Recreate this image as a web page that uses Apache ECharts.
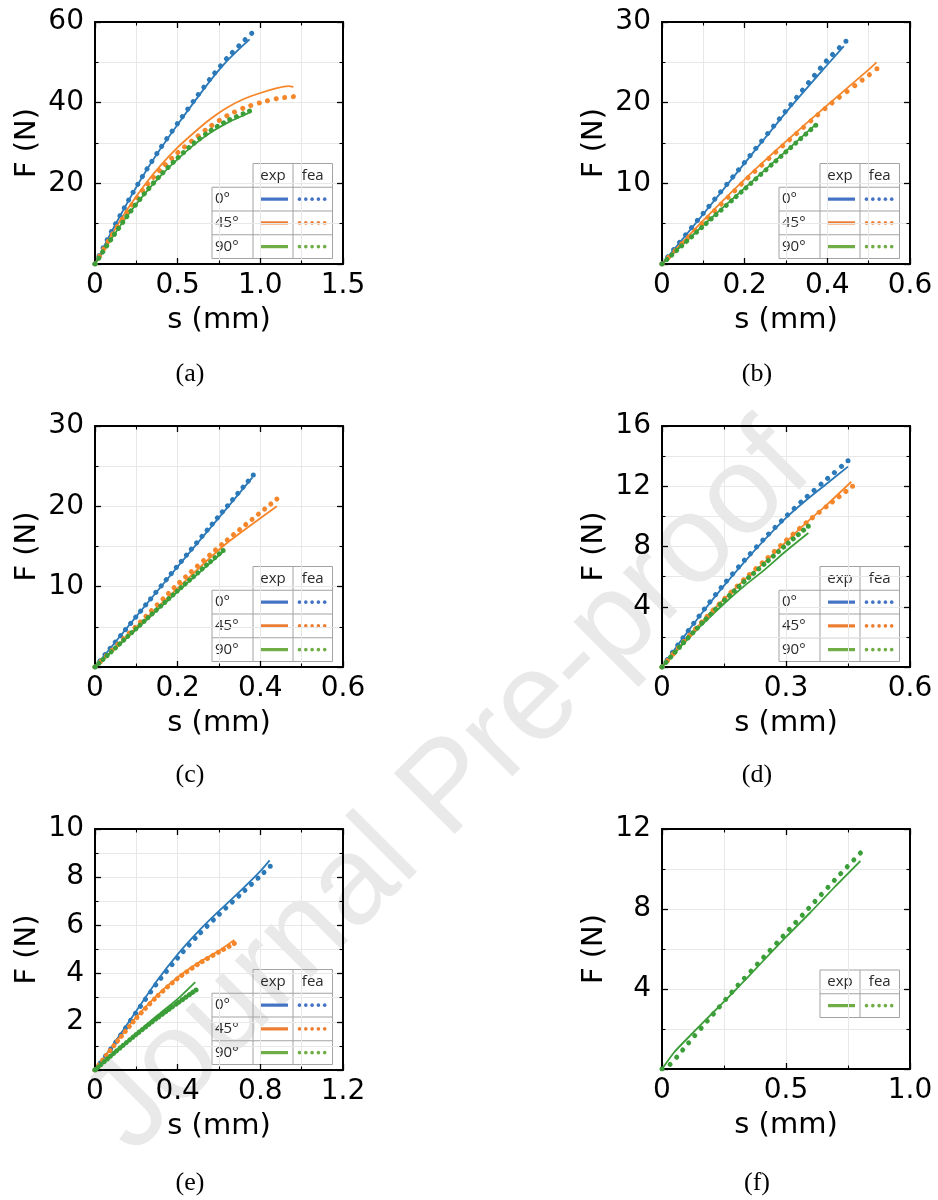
<!DOCTYPE html>
<html>
<head>
<meta charset="utf-8">
<script src="https://cdn.jsdelivr.net/npm/echarts@6/dist/echarts.min.js"></script>
<style>
  html, body { margin: 0; padding: 0; background: #fff; }
  #chart { width: 938px; height: 1200px; }
</style>
</head>
<body>
<div id="chart"></div>
<script>
// Force F (N) against displacement s (mm); "exp" = measured, "fea" = simulation.
const angleLabels = ['0°', '45°', '90°'];
const panelTags = ['(a)', '(b)', '(c)', '(d)', '(e)', '(f)'];

// (a)
const aXTicks = [0, 0.5, 1.0, 1.5];
const aXLabels = ['0', '0.5', '1.0', '1.5'];
const aYTicks = [0, 20, 40, 60];
const aYLabels = ['', '20', '40', '60'];
const aExp0 = [[0,0],[0.05,4.0],[0.1,8.0],[0.2,15.5],[0.3,22.5],[0.4,28.8],[0.5,34.6],[0.6,40.2],[0.7,45.6],[0.8,50.4],[0.9,54.4],[0.935,55.7]];
const aFea0 = [[0,0],[0.05,4.1],[0.1,8.1],[0.2,15.6],[0.3,22.6],[0.4,29.0],[0.5,34.9],[0.6,40.6],[0.7,46.1],[0.8,51.1],[0.9,55.3],[0.948,57.2]];
const aExp45 = [[0,0],[0.1,7.2],[0.2,13.8],[0.3,19.6],[0.4,24.6],[0.5,28.9],[0.6,32.6],[0.7,36.0],[0.8,38.8],[0.9,40.9],[1.0,42.4],[1.1,43.6],[1.17,44.1],[1.2,43.9]];
const aFea45 = [[0,0],[0.1,7.0],[0.2,13.3],[0.3,18.9],[0.4,23.6],[0.5,27.6],[0.6,31.0],[0.7,34.2],[0.8,36.8],[0.9,38.7],[1.0,40.0],[1.1,41.0],[1.2,41.5]];
const aExp90 = [[0,0],[0.1,6.3],[0.2,12.2],[0.3,17.4],[0.4,22.0],[0.5,26.0],[0.6,29.6],[0.7,32.6],[0.8,35.0],[0.9,36.9],[0.928,37.4]];
const aFea90 = [[0,0],[0.1,6.3],[0.2,12.2],[0.3,17.5],[0.4,22.2],[0.5,26.3],[0.6,30.0],[0.7,33.1],[0.8,35.5],[0.9,37.3],[0.935,37.9]];

// (b)
const bXTicks = [0, 0.2, 0.4, 0.6];
const bXLabels = ['0', '0.2', '0.4', '0.6'];
const bYTicks = [0, 10, 20, 30];
const bYLabels = ['', '10', '20', '30'];
const bExp0 = [[0,0],[0.1,6.2],[0.2,12.5],[0.3,18.8],[0.4,24.7],[0.44,27.0]];
const bFea0 = [[0,0],[0.1,6.3],[0.2,12.6],[0.3,19.0],[0.4,25.3],[0.445,27.6]];
const bExp45 = [[0,0],[0.1,5.4],[0.2,10.5],[0.3,15.2],[0.4,19.7],[0.5,24.1],[0.519,25.0]];
const bFea45 = [[0,0],[0.1,5.2],[0.2,10.3],[0.3,15.0],[0.4,19.5],[0.5,23.4],[0.52,24.2]];
const bExp90 = [[0,0],[0.1,4.8],[0.2,9.4],[0.3,14.0],[0.372,17.3]];
const bFea90 = [[0,0],[0.1,4.7],[0.2,9.3],[0.3,13.9],[0.372,17.2]];

// (c)
const cXTicks = [0, 0.2, 0.4, 0.6];
const cXLabels = ['0', '0.2', '0.4', '0.6'];
const cYTicks = [0, 10, 20, 30];
const cYLabels = ['', '10', '20', '30'];
const cExp0 = [[0,0],[0.1,6.3],[0.2,12.5],[0.3,18.6],[0.381,23.6]];
const cFea0 = [[0,0],[0.1,6.3],[0.2,12.6],[0.3,18.8],[0.383,23.9]];
const cExp45 = [[0,0],[0.1,4.9],[0.2,9.8],[0.309,15.0],[0.44,20.0]];
const cFea45 = [[0,0],[0.1,5.1],[0.2,10.3],[0.31,15.4],[0.44,20.9]];
const cExp90 = [[0,0],[0.1,4.7],[0.2,9.4],[0.309,14.3]];
const cFea90 = [[0,0],[0.1,4.8],[0.2,9.5],[0.31,14.5]];

// (d)
const dXTicks = [0, 0.3, 0.6];
const dXLabels = ['0', '0.3', '0.6'];
const dYTicks = [0, 4, 8, 12, 16];
const dYLabels = ['', '4', '8', '12', '16'];
const dExp0 = [[0,0],[0.05,1.9],[0.1,3.7],[0.15,5.4],[0.2,7.0],[0.25,8.5],[0.3,9.9],[0.35,11.1],[0.4,12.2],[0.45,13.3]];
const dFea0 = [[0,0],[0.05,1.9],[0.1,3.75],[0.15,5.5],[0.2,7.1],[0.25,8.6],[0.3,10.0],[0.35,11.3],[0.4,12.5],[0.45,13.7]];
const dExp45 = [[0,0],[0.05,1.6],[0.1,3.1],[0.15,4.5],[0.2,5.8],[0.25,7.0],[0.3,8.3],[0.35,9.6],[0.4,10.8],[0.458,12.3]];
const dFea45 = [[0,0],[0.05,1.6],[0.1,3.1],[0.15,4.5],[0.2,5.85],[0.25,7.1],[0.3,8.4],[0.35,9.6],[0.4,10.7],[0.461,12.0]];
const dExp90 = [[0,0],[0.05,1.5],[0.1,2.9],[0.15,4.2],[0.2,5.4],[0.25,6.5],[0.3,7.7],[0.354,8.9]];
const dFea90 = [[0,0],[0.05,1.55],[0.1,3.0],[0.15,4.4],[0.2,5.7],[0.25,6.9],[0.3,8.1],[0.354,9.35]];

// (e)
const eXTicks = [0, 0.4, 0.8, 1.2];
const eXLabels = ['0', '0.4', '0.8', '1.2'];
const eYTicks = [0, 2, 4, 6, 8, 10];
const eYLabels = ['', '2', '4', '6', '8', '10'];
const eExp0 = [[0,0],[0.1,1.2],[0.2,2.45],[0.3,3.7],[0.4,4.8],[0.5,5.75],[0.6,6.6],[0.7,7.4],[0.8,8.25],[0.845,8.7]];
const eFea0 = [[0,0],[0.1,1.15],[0.2,2.4],[0.3,3.6],[0.4,4.65],[0.5,5.6],[0.6,6.45],[0.7,7.25],[0.8,8.05],[0.848,8.45]];
const eExp45 = [[0,0],[0.1,1.15],[0.2,2.2],[0.3,3.1],[0.4,3.85],[0.5,4.45],[0.6,4.95],[0.674,5.4]];
const eFea45 = [[0,0],[0.1,1.1],[0.2,2.15],[0.3,3.05],[0.4,3.8],[0.5,4.4],[0.6,4.9],[0.674,5.25]];
const eExp90 = [[0,0],[0.1,0.78],[0.2,1.52],[0.3,2.25],[0.4,2.95],[0.485,3.65]];
const eFea90 = [[0,0],[0.1,0.76],[0.2,1.48],[0.3,2.15],[0.4,2.78],[0.489,3.32]];

// (f) 90° only
const fXTicks = [0, 0.5, 1.0];
const fXLabels = ['0', '0.5', '1.0'];
const fYTicks = [0, 4, 8, 12];
const fYLabels = ['', '4', '8', '12'];
const fExp90 = [[0,0],[0.05,0.85],[0.1,1.5],[0.2,2.75],[0.3,4.0],[0.4,5.3],[0.5,6.6],[0.6,7.85],[0.7,9.15],[0.8,10.4]];
const fFea90 = [[0,0],[0.03,0.2],[0.06,0.6],[0.1,1.2],[0.2,2.65],[0.3,4.1],[0.4,5.45],[0.5,6.8],[0.6,8.15],[0.7,9.5],[0.8,10.8]];

// ---------------------------------------------------------------------------
const panels = [
  { xt: aXTicks, xl: aXLabels, yt: aYTicks, yl: aYLabels, exp: [aExp0, aExp45, aExp90], fea: [aFea0, aFea45, aFea90] },
  { xt: bXTicks, xl: bXLabels, yt: bYTicks, yl: bYLabels, exp: [bExp0, bExp45, bExp90], fea: [bFea0, bFea45, bFea90] },
  { xt: cXTicks, xl: cXLabels, yt: cYTicks, yl: cYLabels, exp: [cExp0, cExp45, cExp90], fea: [cFea0, cFea45, cFea90] },
  { xt: dXTicks, xl: dXLabels, yt: dYTicks, yl: dYLabels, exp: [dExp0, dExp45, dExp90], fea: [dFea0, dFea45, dFea90] },
  { xt: eXTicks, xl: eXLabels, yt: eYTicks, yl: eYLabels, exp: [eExp0, eExp45, eExp90], fea: [eFea0, eFea45, eFea90] },
  { xt: fXTicks, xl: fXLabels, yt: fYTicks, yl: fYLabels, exp: [null, null, fExp90], fea: [null, null, fFea90] }
];

// plot rectangles [left, top, width, height]
const layout = [
  [95, 22, 248, 242], [662, 22, 248, 242],
  [95, 426, 248, 241], [662, 426, 248, 241],
  [95, 829, 248, 241], [662, 829, 248, 240]
];
const captionPos = [[190, 374], [757, 374], [190, 775], [757, 775], [190, 1183], [757, 1183]];

const plotColors = ['#2b79b8', '#f5862a', '#3b9e38'];
const keyColors = ['#4472c4', '#ed7d31', '#70ad47'];
const AXIS_FONT = 'DejaVu Sans';
const KEY_FONT = 'Open Sans';
const DOTS = 31;

function labelFor(ticks, labels) {
  return function (v) {
    const k = ticks.findIndex(t => Math.abs(t - v) < 1e-9);
    return k >= 0 ? labels[k] : '';
  };
}

function baseAxis(i, ticks) {
  return {
    gridIndex: i,
    type: 'value',
    min: ticks[0],
    max: ticks[ticks.length - 1],
    interval: ticks[1] - ticks[0],
    axisLine: { show: true, onZero: false, lineStyle: { color: '#000', width: 2 } },
    axisTick: { show: true, inside: true, length: 6, lineStyle: { color: '#000', width: 1.3 } },
    minorTick: { show: true, splitNumber: 2, length: 3.5, lineStyle: { color: '#000', width: 1.1 } }
  };
}

function keyText(text, x, y, align) {
  return {
    type: 'text', silent: true, x, y,
    style: { text, fontFamily: KEY_FONT, fontSize: 15, fontWeight: 500, fill: '#2a2a2a', textAlign: align, textVerticalAlign: 'middle' }
  };
}

const grids = [], xAxes = [], yAxes = [], series = [], feaMeta = [], graphics = [];

panels.forEach((p, i) => {
  const [gx, gy, gw, gh] = layout[i];
  grids.push({ left: gx, top: gy, width: gw, height: gh, containLabel: false, outerBoundsMode: 'none' });

  xAxes.push(Object.assign(baseAxis(i, p.xt), {
    position: 'bottom',
    splitLine: { show: true, lineStyle: { color: '#e8e8e8', width: 1 } },
    minorSplitLine: { show: true, lineStyle: { color: '#e8e8e8', width: 1 } },
    axisLabel: { show: true, margin: 8, fontFamily: AXIS_FONT, fontSize: 28, color: '#000', formatter: labelFor(p.xt, p.xl) },
    name: 's (mm)', nameLocation: 'middle', nameGap: 42,
    nameTextStyle: { fontFamily: AXIS_FONT, fontSize: 29, color: '#000' }
  }));
  xAxes.push(Object.assign(baseAxis(i, p.xt), {
    position: 'top',
    splitLine: { show: false }, minorSplitLine: { show: false },
    axisLabel: { show: false }
  }));
  yAxes.push(Object.assign(baseAxis(i, p.yt), {
    position: 'left',
    splitLine: { show: true, lineStyle: { color: '#e8e8e8', width: 1 } },
    minorSplitLine: { show: true, lineStyle: { color: '#e8e8e8', width: 1 } },
    axisLabel: { show: true, margin: 11, fontFamily: AXIS_FONT, fontSize: 28, color: '#000', formatter: labelFor(p.yt, p.yl) },
    name: 'F (N)', nameLocation: 'middle', nameGap: 53,
    nameTextStyle: { fontFamily: AXIS_FONT, fontSize: 29, color: '#000' }
  }));
  yAxes.push(Object.assign(baseAxis(i, p.yt), {
    position: 'right',
    splitLine: { show: false }, minorSplitLine: { show: false },
    axisLabel: { show: false }
  }));

  for (let k = 0; k < 3; k++) {
    if (!p.exp[k]) continue;
    series.push({
      type: 'line', name: 'exp ' + angleLabels[k],
      xAxisIndex: 2 * i, yAxisIndex: 2 * i,
      data: p.exp[k], showSymbol: false, symbol: 'none', smooth: 0.2,
      lineStyle: { color: plotColors[k], width: 1.8 },
      silent: true, z: 3
    });
  }
  for (let k = 0; k < 3; k++) {
    if (!p.fea[k]) continue;
    const id = 'fea-' + i + '-' + k;
    series.push({
      id, type: 'line', name: 'fea ' + angleLabels[k],
      xAxisIndex: 2 * i, yAxisIndex: 2 * i,
      data: p.fea[k], showSymbol: false, symbol: 'none', smooth: 0.2,
      lineStyle: { color: plotColors[k], width: 5, type: [0.01, 8], cap: 'round' },
      silent: true, z: 4
    });
    feaMeta.push({ id, grid: i, data: p.fea[k] });
  }

  // caption
  graphics.push({
    type: 'text', x: captionPos[i][0], y: captionPos[i][1], silent: true,
    style: { text: panelTags[i], fontFamily: 'Liberation Serif', fontSize: 26, fill: '#000', textAlign: 'center', textVerticalAlign: 'middle' }
  });

  // exp / fea key table
  const withAngles = i < 5;
  const rows = withAngles ? [0, 1, 2] : [2];
  const rowH = 23.75;
  const colW = [41, 40, 39.5];
  const right = gx + gw - 10.5;
  const totalH = rowH * (rows.length + 1);
  const top = withAngles ? gy + gh - 5.5 - totalH : gy + 141;
  const bottom = top + totalH;
  const xFea = right - colW[2];
  const xExp = xFea - colW[1];
  const xAng = withAngles ? xExp - colW[0] : xExp;
  const stroke = { stroke: '#a3a3a3', lineWidth: 1 };
  const hline = (y, x1, x2) => graphics.push({ type: 'line', silent: true, shape: { x1, y1: y, x2, y2: y }, style: stroke });
  const vline = (x, y1, y2) => graphics.push({ type: 'line', silent: true, shape: { x1: x, y1, x2: x, y2 }, style: stroke });
  hline(top, xExp, right);
  for (let r = 1; r <= rows.length + 1; r++) hline(top + rowH * r, xAng, right);
  vline(xExp, top, bottom); vline(xFea, top, bottom); vline(right, top, bottom);
  if (withAngles) vline(xAng, top + rowH, bottom);
  graphics.push(keyText('exp', (xExp + xFea) / 2, top + rowH / 2, 'center'));
  graphics.push(keyText('fea', (xFea + right) / 2, top + rowH / 2, 'center'));
  rows.forEach((k, r) => {
    const yc = top + rowH * (r + 1.5);
    if (withAngles) graphics.push(keyText(angleLabels[k], xAng + 3, yc, 'left'));
    graphics.push({ type: 'line', silent: true, shape: { x1: xExp + 8, y1: yc, x2: xExp + 35, y2: yc },
      style: { stroke: keyColors[k], lineWidth: 3.2 } });
    for (let d = 0; d < 5; d++) {
      graphics.push({ type: 'circle', silent: true, shape: { cx: xFea + 6.5 + d * 6.3, cy: yc, r: 1.8 },
        style: { fill: keyColors[k] } });
    }
  });
});

// diagonal watermark behind the plots
graphics.push({
  type: 'text', silent: true, z: -10, x: 450, y: 790, rotation: Math.PI / 4,
  style: { text: 'Journal Pre-proof', fontFamily: 'Liberation Sans', fontSize: 125, fill: '#e9e9e9', textAlign: 'center', textVerticalAlign: 'middle' }
});

const option = {
  animation: false,
  backgroundColor: '#fff',
  grid: grids,
  xAxis: xAxes,
  yAxis: yAxes,
  series: series,
  graphic: { elements: graphics }
};

const chart = echarts.init(document.getElementById('chart'), null, { renderer: 'canvas' });
chart.setOption(option);

// space the simulation dots evenly: a fixed count along each curve
const updates = feaMeta.map(m => {
  let len = 0, prev = null;
  m.data.forEach(pt => {
    const q = chart.convertToPixel({ gridIndex: m.grid }, pt);
    if (prev) len += Math.hypot(q[0] - prev[0], q[1] - prev[1]);
    prev = q;
  });
  const gap = len / DOTS;
  return { id: m.id, lineStyle: { type: [0.01, gap - 0.01] } };
});
chart.setOption({ series: updates });
</script>
</body>
</html>
